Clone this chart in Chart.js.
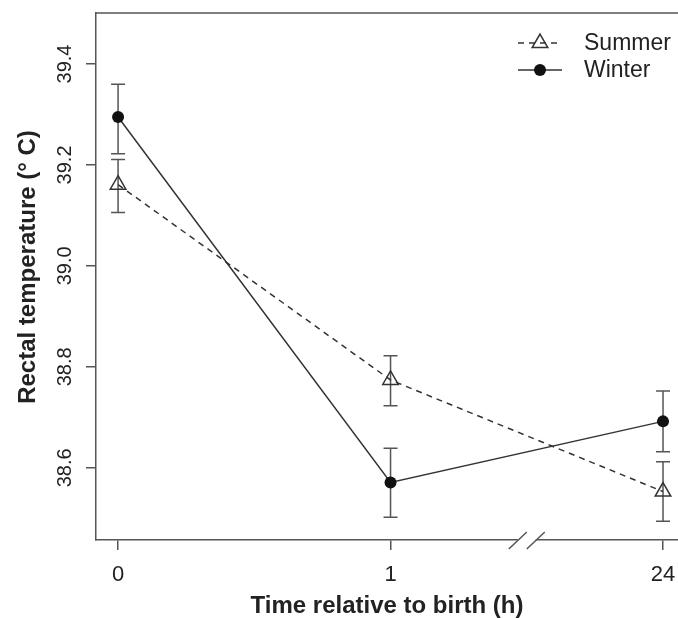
<!DOCTYPE html>
<html>
<head>
<meta charset="utf-8">
<script src="https://cdn.jsdelivr.net/npm/chart.js@4/dist/chart.umd.min.js"></script>
<style>
  html, body { margin: 0; padding: 0; background: #fff; overflow: hidden; }
</style>
</head>
<body>
<canvas id="chart" width="678" height="618"></canvas>
<script>
'use strict';

let canvasElem = document.getElementById('chart');

// hours after birth, drawn in evenly spaced slots (axis is broken before 24)
let timeLabels = ['0', '1', '24'];
let timeSlots = [0, 1, 2];

let summerTemp = [39.161, 38.774, 38.553];
let summerHigh = [39.211, 38.822, 38.612];
let summerLow = [39.106, 38.723, 38.494];

let winterTemp = [39.295, 38.571, 38.692];
let winterHigh = [39.360, 38.639, 38.752];
let winterLow = [39.222, 38.502, 38.632];

let yTicks = [38.6, 38.8, 39.0, 39.2, 39.4];

let yTitle = 'Rectal temperature (° C)';
let xTitle = 'Time relative to birth (h)';

const FONT = '"Liberation Sans", Arial, Helvetica, sans-serif';
const INK = '#222';
const FRAME = '#555';

// vertical error bars with caps, under the markers
const errorBars = {
    id: 'errorBars',
    beforeDatasetsDraw(chart) {
        const ctx = chart.ctx;
        const xs = chart.scales.x;
        const ys = chart.scales.y;
        ctx.save();
        ctx.strokeStyle = FRAME;
        ctx.lineWidth = 1.5;
        chart.data.datasets.forEach(ds => {
            for (let i = 0; i < ds.data.length; i++) {
                let px = xs.getPixelForValue(ds.data[i].x);
                let top = ys.getPixelForValue(ds.high[i]);
                let bot = ys.getPixelForValue(ds.low[i]);
                ctx.beginPath();
                ctx.moveTo(px, top); ctx.lineTo(px, bot);
                ctx.moveTo(px - 7, top); ctx.lineTo(px + 7, top);
                ctx.moveTo(px - 7, bot); ctx.lineTo(px + 7, bot);
                ctx.stroke();
            }
        });
        ctx.restore();
    }
};

// top edge of the box, the // break on the x axis and the y title
const frame = {
    id: 'frame',
    afterDraw(chart) {
        const ctx = chart.ctx;
        const a = chart.chartArea;
        const xs = chart.scales.x;
        ctx.save();
        ctx.strokeStyle = FRAME;
        ctx.lineWidth = 1.5;
        ctx.beginPath();
        ctx.moveTo(a.left, a.top);
        ctx.lineTo(a.right + 2, a.top);
        ctx.stroke();

        let b1 = xs.getPixelForValue(1.467);
        let b2 = xs.getPixelForValue(1.533);
        ctx.fillStyle = '#fff';
        ctx.fillRect(b1, a.bottom - 3, b2 - b1, 6);
        ctx.beginPath();
        [b1, b2].forEach(bx => {
            ctx.moveTo(bx - 9, a.bottom + 9);
            ctx.lineTo(bx + 9, a.bottom - 8);
        });
        ctx.stroke();

        ctx.translate(28, 267);
        ctx.rotate(-Math.PI / 2);
        ctx.fillStyle = INK;
        ctx.font = 'bold 24px ' + FONT;
        ctx.textAlign = 'center';
        ctx.textBaseline = 'middle';
        ctx.fillText(yTitle, 0, 0);
        ctx.restore();
    }
};

// legend in the top right corner: line + marker + name
const legendBox = {
    id: 'legendBox',
    afterDraw(chart) {
        const ctx = chart.ctx;
        ctx.save();
        chart.data.datasets.forEach((ds, i) => {
            let y = 43 + i * 27;
            ctx.strokeStyle = ds.borderColor;
            ctx.lineWidth = ds.borderWidth;
            ctx.setLineDash(ds.borderDash || []);
            ctx.beginPath();
            ctx.moveTo(518, y);
            ctx.lineTo(562, y);
            ctx.stroke();
            ctx.setLineDash([]);
            ctx.fillStyle = ds.pointBackgroundColor;
            ctx.strokeStyle = ds.pointBorderColor;
            ctx.lineWidth = ds.pointBorderWidth;
            Chart.helpers.drawPoint(ctx, {
                pointStyle: ds.pointStyle,
                radius: ds.pointRadius,
                borderWidth: ds.pointBorderWidth,
                rotation: 0
            }, 540, y);
            ctx.fillStyle = INK;
            ctx.font = '23px ' + FONT;
            ctx.textBaseline = 'middle';
            ctx.textAlign = 'left';
            ctx.fillText(ds.label, 584, y + 1);
        });
        ctx.restore();
    }
};

function renderChart() {

    const data = {
        datasets: [{
            label: 'Summer',
            data: timeSlots.map((x, i) => ({ x: x, y: summerTemp[i] })),
            high: summerHigh,
            low: summerLow,
            borderColor: '#333',
            borderWidth: 1.5,
            borderDash: [6, 5],
            pointStyle: 'triangle',
            pointRadius: 9,
            pointBorderWidth: 1.5,
            pointBorderColor: '#333',
            pointBackgroundColor: 'rgba(0,0,0,0)',
            tension: 0
        },
        {
            label: 'Winter',
            data: timeSlots.map((x, i) => ({ x: x, y: winterTemp[i] })),
            high: winterHigh,
            low: winterLow,
            borderColor: '#333',
            borderWidth: 1.5,
            borderDash: [],
            pointStyle: 'circle',
            pointRadius: 6,
            pointBorderWidth: 0,
            pointBorderColor: '#111',
            pointBackgroundColor: '#111',
            tension: 0
        }]
    };

    const config = {
        type: 'line',
        data: data,
        plugins: [errorBars, frame, legendBox],
        options: {
            responsive: false,
            animation: false,
            layout: { autoPadding: false, padding: { top: 13, left: 0, right: 0, bottom: 0 } },
            plugins: {
                legend: { display: false },
                tooltip: { enabled: false }
            },
            scales: {
                x: {
                    type: 'linear',
                    min: -0.081,
                    max: 2.055,
                    afterBuildTicks: s => { s.ticks = timeSlots.map(v => ({ value: v })); },
                    afterFit: s => { s.height = 78; s.paddingLeft = 0; s.paddingRight = 0; },
                    ticks: {
                        callback: (v, i) => timeLabels[i],
                        font: { family: FONT, size: 22 },
                        color: INK,
                        padding: 12,
                        maxRotation: 0
                    },
                    grid: { drawOnChartArea: false, drawTicks: true, tickLength: 10, color: FRAME, lineWidth: 1.5 },
                    border: { display: true, color: FRAME, width: 1.5 },
                    title: {
                        display: true,
                        text: xTitle,
                        font: { family: FONT, size: 24, weight: 'bold', lineHeight: 1 },
                        color: INK,
                        padding: { top: 0, bottom: 0 }
                    }
                },
                y: {
                    min: 38.457,
                    max: 39.501,
                    afterBuildTicks: s => { s.ticks = yTicks.map(v => ({ value: v })); },
                    afterFit: s => { s.width = 96; s.paddingTop = 0; s.paddingBottom = 0; },
                    ticks: {
                        callback: v => v.toFixed(1),
                        font: { family: FONT, size: 20 },
                        color: INK,
                        minRotation: 90,
                        maxRotation: 90,
                        crossAlign: 'center',
                        padding: 1
                    },
                    grid: { drawOnChartArea: false, drawTicks: true, tickLength: 10, color: FRAME, lineWidth: 1.5 },
                    border: { display: true, color: FRAME, width: 1.5 }
                }
            }
        }
    };

    const myGraph = new Chart(canvasElem, config);
}

renderChart();
</script>
</body>
</html>
